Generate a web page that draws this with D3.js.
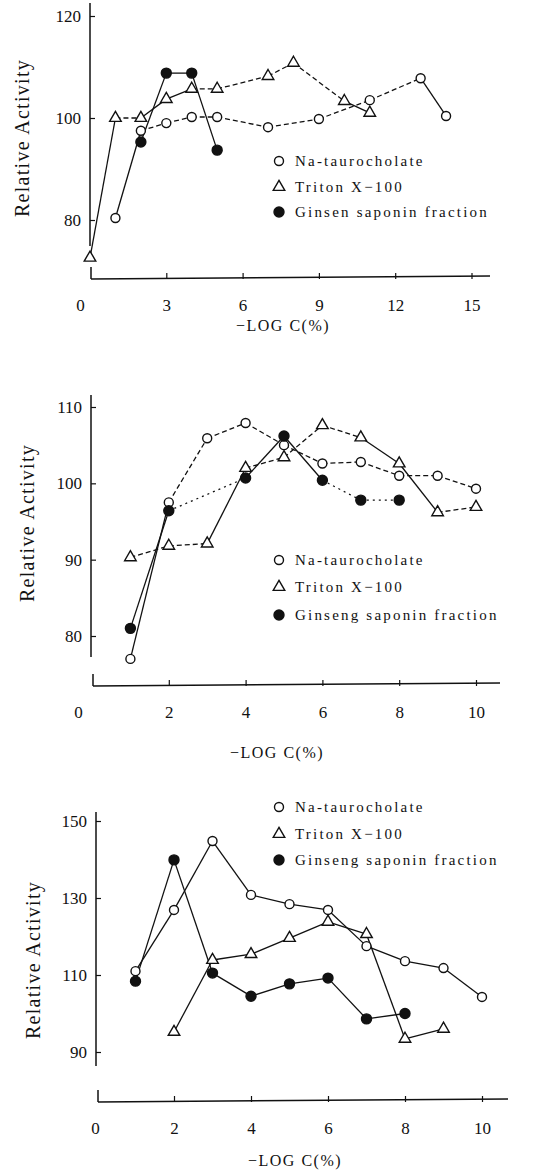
<!DOCTYPE html>
<html>
<head>
<meta charset="utf-8">
<script src="https://cdn.jsdelivr.net/npm/d3@7"></script>
<style>
  body { margin: 0; background: #fff; }
  svg { display: block; font-family: "Liberation Serif", "DejaVu Serif", serif; }
</style>
</head>
<body>
<svg width="534" height="1172"></svg>
<script>
// ---- data ----
const seriesNames1 = ["Na-taurocholate", "Triton X\u2212100", "Ginsen saponin fraction"];
const seriesNames = ["Na-taurocholate", "Triton X\u2212100", "Ginseng saponin fraction"];

// panel 1
const p1XTicks = [0, 3, 6, 9, 12, 15];
const p1YTicks = [80, 100, 120];
const p1NaX = [1, 2, 3, 4, 5, 7, 9, 11, 13, 14];
const p1NaY = [80.4, 97.5, 99, 100.2, 100.2, 98.2, 99.8, 103.5, 107.8, 100.4];
const p1TritonX = [0, 1, 2, 3, 4, 5, 7, 8, 10, 11];
const p1TritonY = [72.6, 100, 100, 103.7, 105.7, 105.7, 108.2, 110.8, 103.3, 101];
const p1GinsenX = [2, 3, 4, 5];
const p1GinsenY = [95.3, 108.8, 108.8, 93.7];

// panel 2
const p2XTicks = [0, 2, 4, 6, 8, 10];
const p2YTicks = [80, 90, 100, 110];
const p2NaX = [1, 2, 3, 4, 5, 6, 7, 8, 9, 10];
const p2NaY = [77, 97.5, 105.9, 107.9, 105, 102.6, 102.8, 101, 101, 99.3];
const p2TritonX = [1, 2, 3, 4, 5, 6, 7, 8, 9, 10];
const p2TritonY = [90.3, 91.8, 92.1, 102, 103.4, 107.6, 106, 102.6, 96.2, 96.9];
const p2GinsengX = [1, 2, 4, 5, 6, 7, 8];
const p2GinsengY = [81, 96.4, 100.7, 106.2, 100.4, 97.8, 97.8];

// panel 3
const p3XTicks = [0, 2, 4, 6, 8, 10];
const p3YTicks = [90, 110, 130, 150];
const p3NaX = [1, 2, 3, 4, 5, 6, 7, 8, 9, 10];
const p3NaY = [111, 126.9, 144.8, 130.8, 128.4, 126.9, 117.5, 113.6, 111.8, 104.3];
const p3TritonX = [2, 3, 4, 5, 6, 7, 8, 9];
const p3TritonY = [95.2, 113.9, 115.4, 119.6, 123.8, 120.6, 93.4, 96];
const p3GinsengX = [1, 2, 3, 4, 5, 6, 7, 8];
const p3GinsengY = [108.4, 139.9, 110.5, 104.5, 107.7, 109.2, 98.6, 100];

const zip = (xs, ys) => xs.map((x, i) => ({ x: x, y: ys[i] }));

// layout + line styles per panel (solid = indices of segments drawn solid)
const panels = [
  {
    xDomain: [0, 15], xRange: [90, 471.5], yDomain: [80, 120], yRange: [220, 16],
    xTicks: p1XTicks, yTicks: p1YTicks, axisX: 90, axisTop: 3, axisBottom: 246,
    baseY: 279, baseRight: 490, zeroDx: -10, yLabel: [22, 138], xLabel: [283, 325],
    legendY: [161, 187, 212], legendNames: seriesNames1,
    series: [
      { data: zip(p1NaX, p1NaY), shape: "circle", dash: "5,3", solid: [0, 8] },
      { data: zip(p1TritonX, p1TritonY), shape: "triangle", dash: "5,3", solid: [0, 2, 3, 8] },
      { data: zip(p1GinsenX, p1GinsenY), shape: "dot", dash: null, solid: [] }
    ]
  },
  {
    xDomain: [0, 10], xRange: [92, 476], yDomain: [80, 110], yRange: [636, 407],
    xTicks: p2XTicks, yTicks: p2YTicks, axisX: 91, axisTop: 395, axisBottom: 657,
    baseY: 686, baseRight: 500, zeroDx: -14, yLabel: [27, 523], xLabel: [277, 752],
    legendY: [560, 587, 615], legendNames: seriesNames,
    series: [
      { data: zip(p2NaX, p2NaY), shape: "circle", dash: "5,3", solid: [0] },
      { data: zip(p2TritonX, p2TritonY), shape: "triangle", dash: "5,3", solid: [2, 6, 7] },
      { data: zip(p2GinsengX, p2GinsengY), shape: "dot", dash: "2,4", solid: [0, 2, 3] }
    ]
  },
  {
    xDomain: [0, 10], xRange: [97, 482], yDomain: [90, 150], yRange: [1052, 821],
    xTicks: p3XTicks, yTicks: p3YTicks, axisX: 96, axisTop: 812, axisBottom: 1066,
    baseY: 1102, baseRight: 508, zeroDx: -2, yLabel: [33, 960], xLabel: [295, 1160],
    legendY: [807, 834, 860], legendNames: seriesNames,
    series: [
      { data: zip(p3NaX, p3NaY), shape: "circle", dash: null, solid: [] },
      { data: zip(p3TritonX, p3TritonY), shape: "triangle", dash: null, solid: [] },
      { data: zip(p3GinsengX, p3GinsengY), shape: "dot", dash: null, solid: [] }
    ]
  }
];

const svg = d3.select("svg");
const ink = "#111";

function drawMarker(g, shape, cx, cy) {
  if (shape === "triangle") {
    g.append("path")
      .attr("d", d3.symbol(d3.symbolTriangle, 58)())
      .attr("transform", `translate(${cx},${cy})`)
      .attr("fill", "#fff").attr("stroke", ink).attr("stroke-width", 1.4);
  } else {
    g.append("circle")
      .attr("cx", cx).attr("cy", cy).attr("r", shape === "dot" ? 5 : 4.5)
      .attr("fill", shape === "dot" ? ink : "#fff")
      .attr("stroke", ink).attr("stroke-width", 1.4);
  }
}

panels.forEach(p => {
  const g = svg.append("g");
  const x = d3.scaleLinear().domain(p.xDomain).range(p.xRange);
  const y = d3.scaleLinear().domain(p.yDomain).range(p.yRange);

  // y axis line + ticks
  g.append("line")
    .attr("x1", p.axisX).attr("x2", p.axisX)
    .attr("y1", p.axisTop).attr("y2", p.axisBottom)
    .attr("stroke", ink).attr("stroke-width", 1.5);
  const yAxis = g.append("g")
    .attr("transform", `translate(${p.axisX},0)`)
    .call(d3.axisLeft(y).tickValues(p.yTicks).tickSize(-5).tickPadding(9));
  yAxis.select(".domain").remove();
  yAxis.selectAll("line").attr("stroke", ink).attr("stroke-width", 1.2);
  yAxis.selectAll("text").attr("font-size", 17).attr("fill", ink)
    .attr("font-family", "Liberation Serif, serif");

  // x axis: left stub + base line + ticks
  g.append("line")
    .attr("x1", p.xRange[0] + 1).attr("x2", p.xRange[0] + 1)
    .attr("y1", p.baseY - 12).attr("y2", p.baseY)
    .attr("stroke", ink).attr("stroke-width", 1.5);
  g.append("line")
    .attr("x1", p.xRange[0] + 1).attr("x2", p.baseRight)
    .attr("y1", p.baseY).attr("y2", p.baseY - 3)
    .attr("stroke", ink).attr("stroke-width", 1.5);
  const xAxis = g.append("g")
    .attr("transform", `translate(0,${p.baseY})`)
    .call(d3.axisBottom(x).tickValues(p.xTicks).tickSize(-6).tickPadding(20));
  xAxis.select(".domain").remove();
  xAxis.selectAll("line").attr("stroke", ink).attr("stroke-width", 1.2)
    .filter(d => d === 0).remove();
  xAxis.selectAll("text").attr("font-size", 17).attr("fill", ink)
    .attr("font-family", "Liberation Serif, serif")
    .attr("dx", d => d === 0 ? p.zeroDx : 0);

  // axis titles
  g.append("text")
    .attr("transform", `translate(${p.yLabel[0]},${p.yLabel[1]}) rotate(-90)`)
    .attr("text-anchor", "middle").attr("dominant-baseline", "central")
    .attr("font-size", 20).attr("letter-spacing", 1.3).attr("fill", ink)
    .text("Relative Activity");
  g.append("text")
    .attr("x", p.xLabel[0]).attr("y", p.xLabel[1])
    .attr("text-anchor", "middle").attr("dominant-baseline", "central")
    .attr("font-size", 16).attr("letter-spacing", 1.5).attr("fill", ink)
    .text("\u2212LOG C(%)");

  // lines, segment by segment so dashed and solid parts can mix
  p.series.forEach(s => {
    const segs = d3.pairs(s.data);
    g.selectAll(null)
      .data(segs)
      .enter().append("line")
      .attr("x1", d => x(d[0].x)).attr("y1", d => y(d[0].y))
      .attr("x2", d => x(d[1].x)).attr("y2", d => y(d[1].y))
      .attr("stroke", ink).attr("stroke-width", 1.3)
      .attr("stroke-dasharray", (d, i) => (s.dash && !s.solid.includes(i)) ? s.dash : null);
  });

  // markers
  p.series.forEach(s => {
    s.data.forEach(d => drawMarker(g, s.shape, x(d.x), y(d.y)));
  });

  // legend
  p.series.forEach((s, i) => {
    const ly = p.legendY[i];
    drawMarker(g, s.shape, 279, ly);
    g.append("text")
      .attr("x", 295).attr("y", ly)
      .attr("dominant-baseline", "central")
      .attr("font-size", 15).attr("letter-spacing", 2.2).attr("fill", ink)
      .text(p.legendNames[i]);
  });
});
</script>
</body>
</html>
